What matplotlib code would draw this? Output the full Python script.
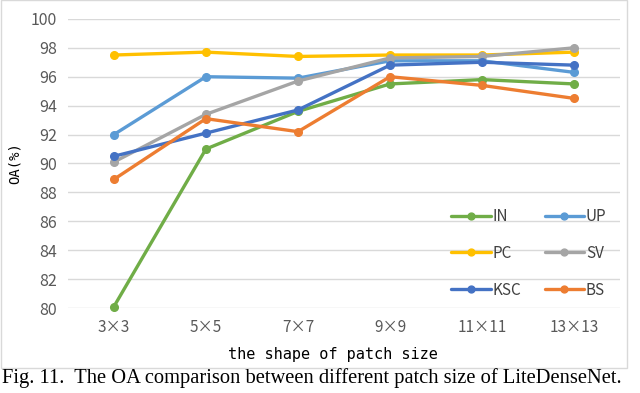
import matplotlib.pyplot as plt
from matplotlib.patches import Rectangle

patch_sizes = ["3×3", "5×5", "7×7", "9×9", "11×11", "13×13"]
oa_in = [80.1, 91.0, 93.6, 95.5, 95.8, 95.5]
oa_up = [92.0, 96.0, 95.9, 97.1, 97.1, 96.3]
oa_pc = [97.5, 97.7, 97.4, 97.5, 97.5, 97.7]
oa_sv = [90.1, 93.4, 95.7, 97.3, 97.4, 98.0]
oa_ksc = [90.5, 92.1, 93.7, 96.8, 97.0, 96.8]
oa_bs = [88.9, 93.1, 92.2, 96.0, 95.4, 94.5]

series = [
    ("IN", oa_in, "#70AD47"),
    ("UP", oa_up, "#5B9BD5"),
    ("PC", oa_pc, "#FFC000"),
    ("SV", oa_sv, "#A5A5A5"),
    ("KSC", oa_ksc, "#4472C4"),
    ("BS", oa_bs, "#ED7D31"),
]

cjk = ["Noto Sans CJK SC", "DejaVu Sans"]

fig = plt.figure(figsize=(6.4, 3.93), dpi=100)
ax = fig.add_axes([0.106, 0.216, 0.863, 0.736])

x = list(range(len(patch_sizes)))
lines = {}
for name, vals, col in series:
    ln, = ax.plot(x, vals, color=col, lw=2.4, marker="o", ms=5.5,
                  solid_capstyle="round", label=name, clip_on=False)
    lines[name] = ln

ax.set_xlim(-0.5, 5.5)
ax.set_ylim(80, 100)
ax.set_yticks(range(80, 101, 2))
ax.set_xticks(x)
ax.set_xticklabels(patch_sizes, family=cjk, fontsize=11, color="#595959")
for t in ax.get_yticklabels():
    t.set_family(cjk)
    t.set_fontsize(11.5)
    t.set_color("#595959")
ax.tick_params(length=0, pad=8)
ax.grid(axis="y", color="#d9d9d9", lw=1)
ax.set_axisbelow(True)
for s in ax.spines.values():
    s.set_visible(False)

ax.set_xlabel("the shape of patch size", family="DejaVu Sans Mono",
              fontsize=11, labelpad=4)
ax.xaxis.set_label_coords(0.48, -0.135)
ax.set_ylabel("OA(%)", family="DejaVu Sans Mono", fontsize=10, labelpad=6)

order = ["IN", "PC", "KSC", "UP", "SV", "BS"]
leg = ax.legend([lines[n] for n in order], order, ncol=2, frameon=False,
                loc="lower right", bbox_to_anchor=(1.0, -0.015),
                handlelength=2.6, handletextpad=0.1, columnspacing=1.55,
                labelspacing=1.3, markerscale=0.9,
                prop={"family": cjk, "size": 11})
for t in leg.get_texts():
    t.set_color("#404040")

fig.patches.append(Rectangle((0.001, 0.064), 0.979, 0.935, transform=fig.transFigure,
                             fill=False, edgecolor="#d9d9d9", lw=1))

fig.text(0.003, 0.037, "Fig. 11.  The OA comparison between different patch size of LiteDenseNet.",
         family="Liberation Serif", fontsize=14.8, va="center", ha="left")

fig.savefig("out.png", dpi=100)
